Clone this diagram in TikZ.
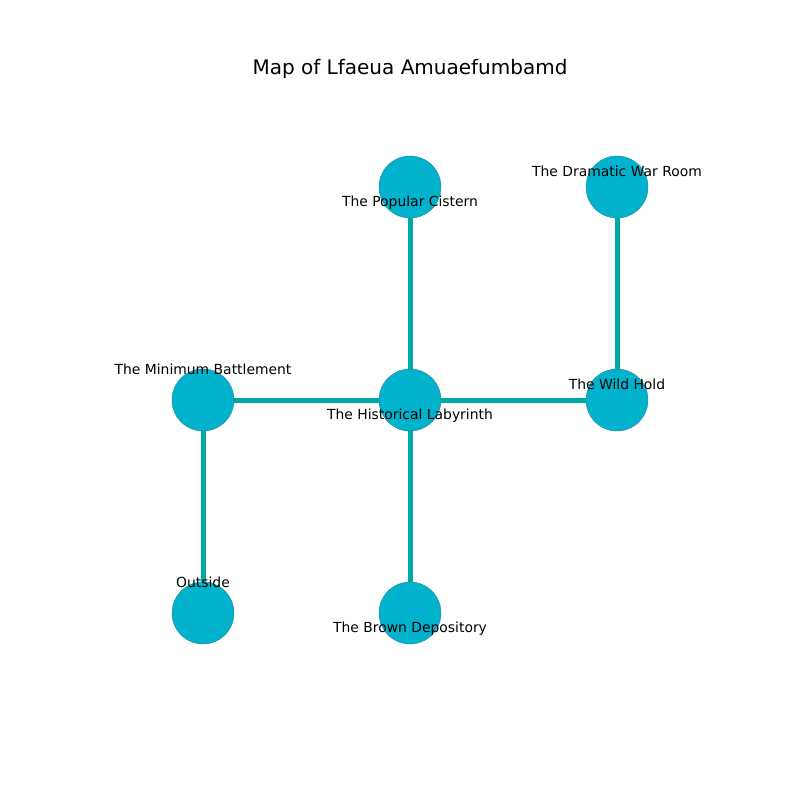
\documentclass[tikz,border=0pt]{standalone}
\usepackage{fontspec}
\setmainfont{DejaVu Sans}
\begin{document}
\begin{tikzpicture}[x=1bp,y=-1bp,
  room/.style={circle,minimum size=62bp,inner sep=0pt,fill={rgb,255:red,0;green,178;blue,204},draw={rgb,255:red,40;green,130;blue,150},line width=0.4bp},
  link/.style={line width=5bp,draw={rgb,255:red,0;green,168;blue,168}},
  lab/.style={font=\fontsize{13.9bp}{16bp}\selectfont,inner sep=0pt,anchor=center},
  ttl/.style={font=\fontsize{20bp}{24bp}\selectfont,inner sep=0pt}]
\useasboundingbox (0,0) rectangle (800,800);
\node[ttl] (title) at (410,69) {Map of Lfaeua Amuaefumbamd};
\coordinate (pc) at (410,187);
\coordinate (dw) at (617,187);
\coordinate (mb) at (203,400);
\coordinate (hl) at (410,400);
\coordinate (wh) at (617,400);
\coordinate (out) at (203,613);
\coordinate (bd) at (410,613);
\draw[link] (hl) -- (pc);
\draw[link] (hl) -- (mb);
\draw[link] (hl) -- (wh);
\draw[link] (hl) -- (bd);
\draw[link] (wh) -- (dw);
\draw[link] (mb) -- (out);
\node[room] (npc) at (pc) {};
\node[room] (ndw) at (dw) {};
\node[room] (nmb) at (mb) {};
\node[room] (nhl) at (hl) {};
\node[room] (nwh) at (wh) {};
\node[room] (nout) at (out) {};
\node[room] (nbd) at (bd) {};
\node[lab] (lpc) at (410,203) {The Popular Cistern};
\node[lab] (ldw) at (617,171) {The Dramatic War Room};
\node[lab] (lmb) at (203,369) {The Minimum Battlement};
\node[lab] (lhl) at (410,416) {The Historical Labyrinth};
\node[lab] (lwh) at (617,384) {The Wild Hold};
\node[lab] (lout) at (203,582) {Outside};
\node[lab] (lbd) at (410,629) {The Brown Depository};
\end{tikzpicture}
\end{document}
